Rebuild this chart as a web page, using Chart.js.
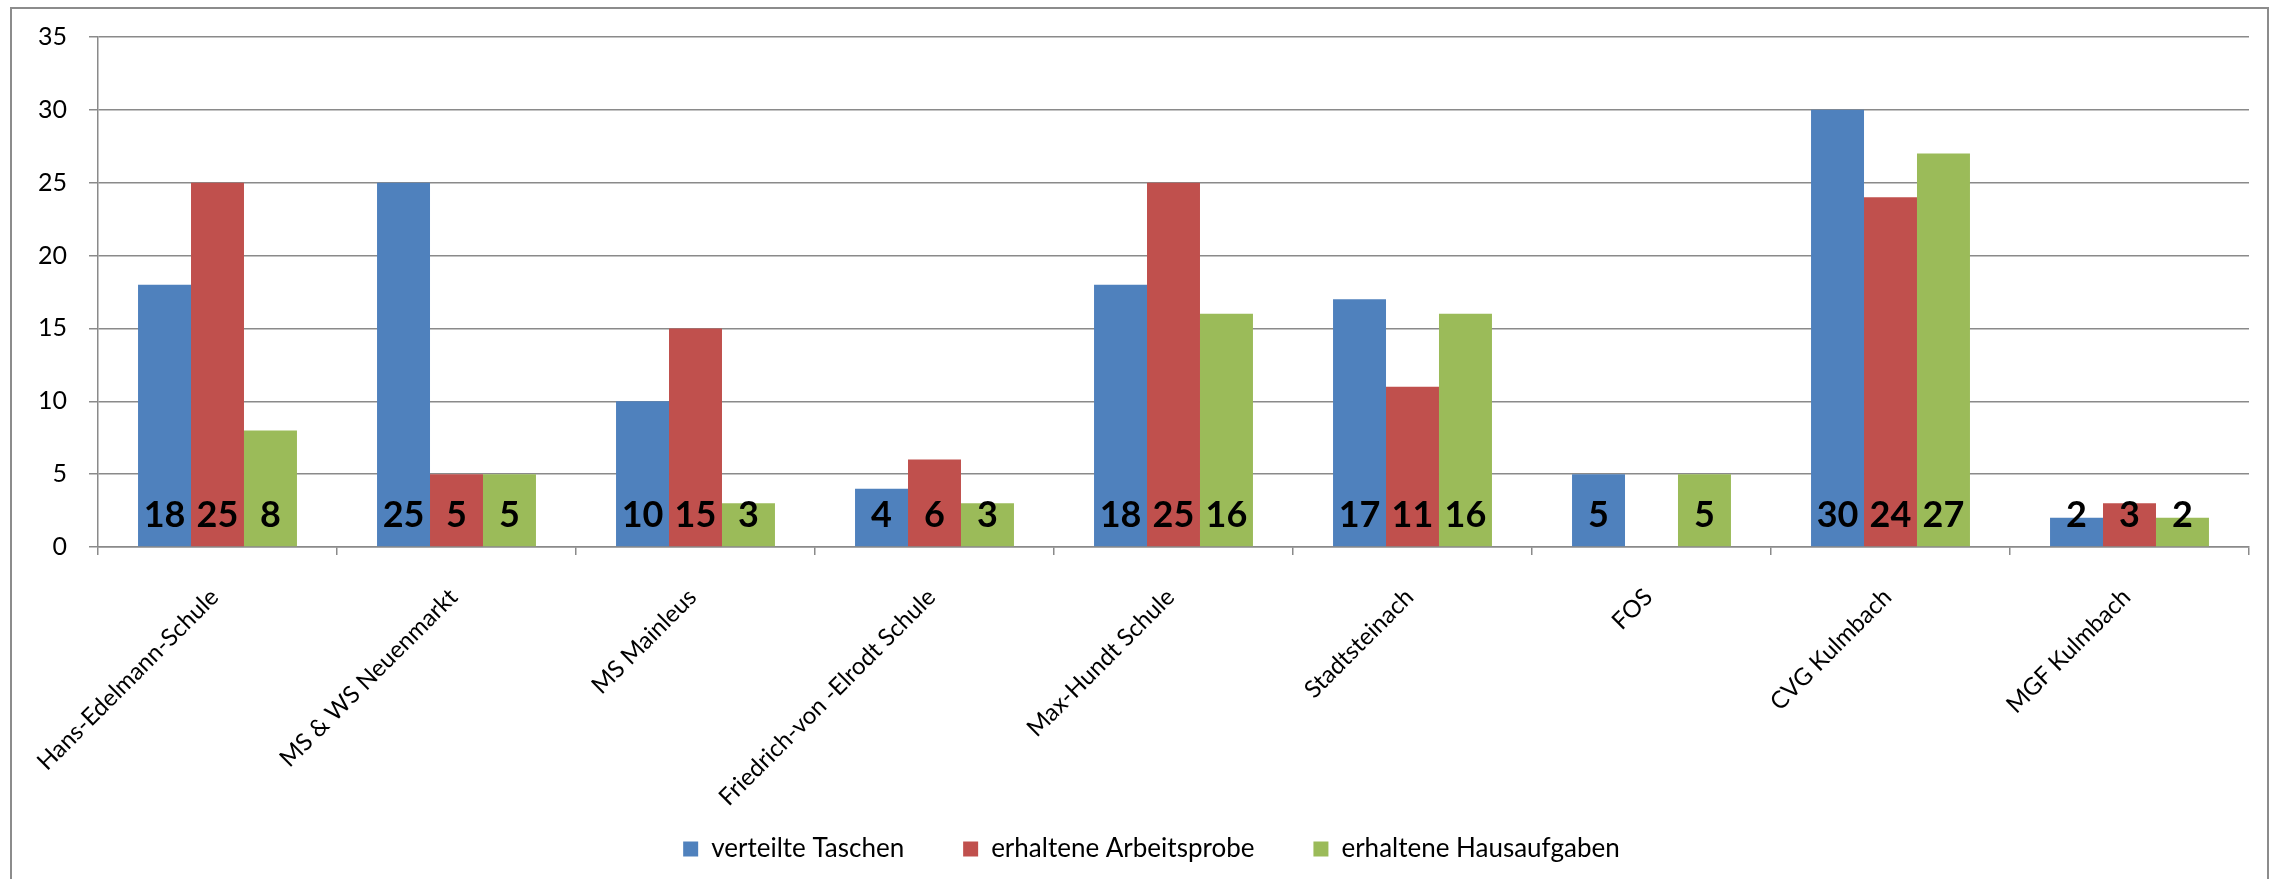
<!DOCTYPE html>
<html>
<head>
<meta charset="utf-8">
<script src="https://cdn.jsdelivr.net/npm/chart.js@4.4.1/dist/chart.umd.min.js"></script>
<style>
  html, body { margin: 0; padding: 0; background: #fff; overflow: hidden; }
  #wrap { position: relative; width: 2272px; height: 879px; }
  #rahmen { position: absolute; left: 10px; top: 7px; width: 2255px; height: 920px; border: 2px solid #8c8c8c; pointer-events: none; }
  canvas { position: absolute; left: 0; top: 0; }
</style>
</head>
<body>
<div id="wrap">
  <canvas id="schulChart" width="2272" height="879"></canvas>
  <div id="rahmen"></div>
</div>
<script>
// Schulen (X-Achse)
const schulen = [
  'Hans-Edelmann-Schule',
  'MS & WS Neuenmarkt',
  'MS Mainleus',
  'Friedrich-von -Elrodt Schule',
  'Max-Hundt Schule',
  'Stadtsteinach',
  'FOS',
  'CVG Kulmbach',
  'MGF Kulmbach'
];

// Werte je Reihe
const verteilteTaschen = [18, 25, 10, 4, 18, 17, 5, 30, 2];
const erhalteneArbeitsprobe = [25, 5, 15, 6, 25, 11, null, 24, 3];
const erhalteneHausaufgaben = [8, 5, 3, 3, 16, 16, 5, 27, 2];

// Y-Achse
const yMax = 35;
const yStep = 5;

const grau = '#8a8a8a';
const schrift = 'Lato';

// Zahlen unten in die Balken schreiben
const werteImBalken = {
  id: 'werteImBalken',
  afterDatasetsDraw(chart) {
    const ctx = chart.ctx;
    const y = chart.scales.y.getPixelForValue(0) - 32;
    ctx.save();
    ctx.font = 'bold 36px ' + schrift;
    ctx.fillStyle = '#000';
    ctx.textAlign = 'center';
    ctx.textBaseline = 'middle';
    chart.data.datasets.forEach((ds, i) => {
      chart.getDatasetMeta(i).data.forEach((bar, j) => {
        if (ds.data[j] == null) return;
        ctx.fillText(String(ds.data[j]), bar.x, y);
      });
    });
    ctx.restore();
  }
};

// Legende wie im Original: etwas nach rechts und nach oben
// (nur top verschieben, sonst schneidet der Clip-Bereich die Einträge ab)
const legendeVerschieben = {
  id: 'legendeVerschieben',
  afterLayout(chart) {
    const l = chart.legend;
    l.left += 27;
    l.right += 27;
    l.top -= 50;
  }
};

const ctx = document.getElementById('schulChart').getContext('2d');
new Chart(ctx, {
  type: 'bar',
  data: {
    labels: schulen,
    datasets: [
      { label: 'verteilte Taschen', data: verteilteTaschen, backgroundColor: '#4F81BD' },
      { label: 'erhaltene Arbeitsprobe', data: erhalteneArbeitsprobe, backgroundColor: '#C0504D' },
      { label: 'erhaltene Hausaufgaben', data: erhalteneHausaufgaben, backgroundColor: '#9BBB59' }
    ]
  },
  options: {
    responsive: false,
    animation: false,
    categoryPercentage: 0.665,
    barPercentage: 1,
    layout: { padding: { left: 0, right: 23, top: 36, bottom: 0 } },
    plugins: {
      tooltip: { enabled: false },
      legend: {
        position: 'bottom',
        maxHeight: 52,
        labels: {
          boxWidth: 15,
          boxHeight: 15,
          padding: 59,
          color: '#000',
          font: { family: schrift, size: 26 }
        }
      }
    },
    scales: {
      x: {
        afterFit(scale) {
          scale.height = 280;
          scale.paddingLeft = 0;
          scale.paddingRight = 0;
        },
        grid: { offset: true, drawOnChartArea: false, color: grau, lineWidth: 1.5, tickLength: 8 },
        border: { color: grau, width: 1.5 },
        ticks: {
          autoSkip: false,
          minRotation: 45,
          maxRotation: 45,
          padding: 28,
          labelOffset: -3,
          color: '#000',
          font: { family: schrift, size: 24 }
        }
      },
      y: {
        min: 0,
        max: yMax,
        afterFit(scale) { scale.width = 98; },
        grid: { color: grau, lineWidth: 1.5, tickLength: 9 },
        border: { color: grau, width: 1.5 },
        ticks: {
          stepSize: yStep,
          padding: 22,
          color: '#000',
          font: { family: schrift, size: 25 }
        }
      }
    }
  },
  plugins: [werteImBalken, legendeVerschieben]
});
</script>
</body>
</html>
